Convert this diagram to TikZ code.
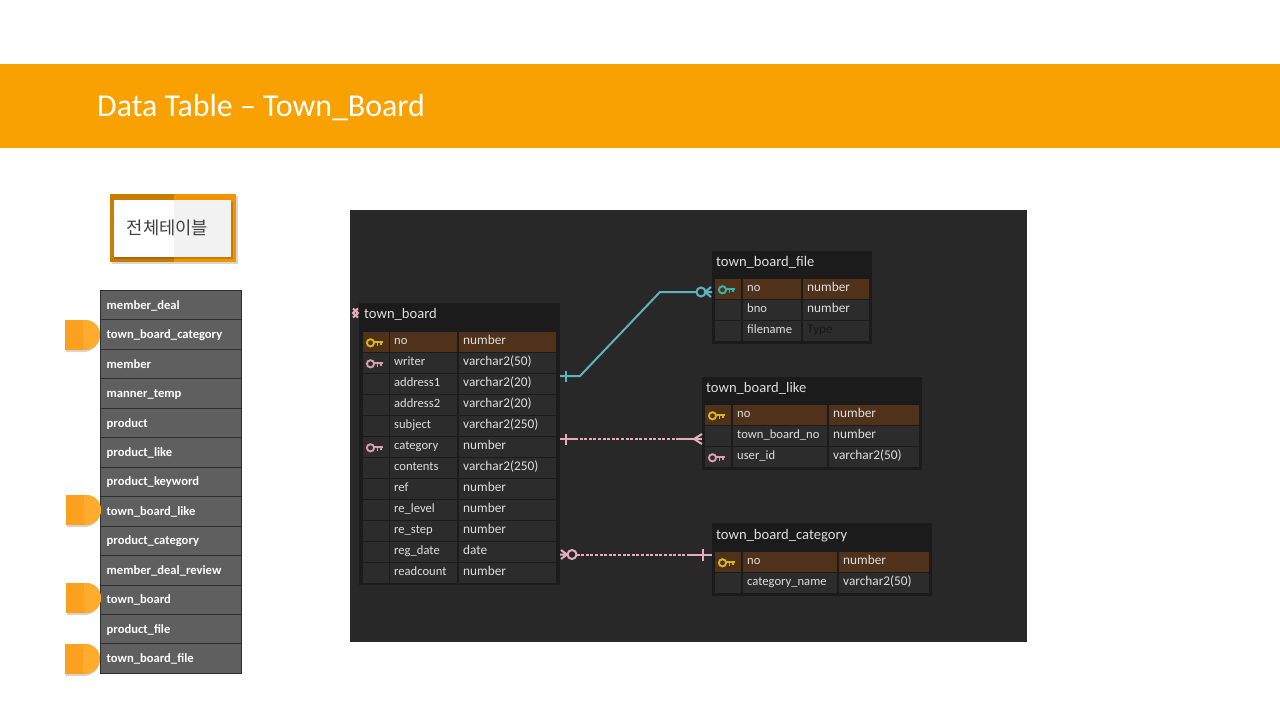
\documentclass[tikz,border=0pt]{standalone}
\usepackage{fontspec}
\setmainfont{Carlito}
\newfontfamily\krfont{Noto Sans CJK KR}
\definecolor{band}{HTML}{F9A100}
\definecolor{panel}{HTML}{282828}
\definecolor{tablebg}{HTML}{1B1B1B}
\definecolor{cellbg}{HTML}{2C2C2C}
\definecolor{pkbg}{HTML}{4F3219}
\definecolor{erText}{HTML}{DEDEDE}
\definecolor{keyGold}{HTML}{D9B81E}
\definecolor{keyPink}{HTML}{D8A0AE}
\definecolor{keyTeal}{HTML}{2FB8B8}
\definecolor{linkTeal}{HTML}{5FB3BC}
\definecolor{linkPink}{HTML}{E6ADBD}
\definecolor{listbg}{HTML}{5F5F5F}
\definecolor{listedge}{HTML}{2E2E2E}
\definecolor{tabA}{HTML}{FCA11F}
\definecolor{tabB}{HTML}{FFAB2E}
\definecolor{btnDark}{HTML}{C77C02}
\definecolor{btnLight}{HTML}{F09400}
\definecolor{btnGrey}{HTML}{F2F2F2}
\definecolor{btnText}{HTML}{404040}
\tikzset{
  box/.style={draw=none,inner sep=0pt,outer sep=0pt,anchor=north west},
  ertable/.style={box,fill=tablebg},
  ercell/.style={box,fill=cellbg,minimum height=20pt},
  ertitle/.style={inner sep=0pt,anchor=west,text=erText,font=\fontsize{14.6}{16}\selectfont,text height=11pt,text depth=1pt},
  ername/.style={inner sep=0pt,anchor=west,text=erText,font=\fontsize{12.6}{14}\selectfont,text height=8pt,text depth=3pt},
  ertype/.style={inner sep=0pt,anchor=west,text=erText,font=\fontsize{13.3}{14}\selectfont,text height=8pt,text depth=3pt},
  listrow/.style={box,fill=listbg,draw=listedge,line width=1pt,minimum width=141pt,minimum height=29.5pt},
  listtext/.style={inner sep=0pt,anchor=west,text=white,font=\fontsize{12.6}{14}\selectfont\bfseries,text height=8pt,text depth=3pt},
  link/.style={line width=2pt},
  dashlink/.style={line width=2pt,dash pattern=on 3pt off 1.6pt},
  shadowfill/.style={fill=black,opacity=.16,draw=none},
}
\def\nokey{none}
% args: name, y, key colour or none, name text, type text, fill, type text colour
\newcommand\errow[7]{%
  \node[ercell,fill=#6,minimum width=\kw pt] (#1k) at (\kx,#2) {};
  \node[ercell,fill=#6,minimum width=\nw pt] (#1n) at (\nx,#2) {};
  \node[ercell,fill=#6,minimum width=\tw pt] (#1t) at (\tx,#2) {};
  \node[ername] (#1nt) at ([xshift=4pt,yshift=0.3pt]#1n.west) {#4};
  \node[ertype,text=#7] (#1tt) at ([xshift=4pt,yshift=0.3pt]#1t.west) {#5};
  \def\keyarg{#3}%
  \ifx\keyarg\nokey\else
  \begin{scope}[shift={(#1k.center)},xshift=-5.5pt,yshift=-0.8pt]
    \draw[#3,line width=1.9pt] (0,0) circle (3.6pt);
    \draw[#3,line width=2.2pt] (3.6,-1) -- (12,-1);
    \draw[#3,line width=1.8pt] (7,-1) -- (7,3) (10.5,-1) -- (10.5,2.5);
  \end{scope}
  \fi
}
\begin{document}
\begin{tikzpicture}[x=1pt,y=-1pt]
\useasboundingbox (0,0) rectangle (1280,720);
\fill[white] (0,0) rectangle (1280,720);
% header
\node[box,fill=band,minimum width=1280pt,minimum height=84pt] (header) at (0,64) {};
\node[inner sep=0pt,anchor=west,text=white,font=\fontsize{31.9}{34}\selectfont] (title) at (97,107.5) {Data Table – Town\_Board};
% button
\fill[shadowfill] (111.5,195.5) rectangle (237.5,264);
\fill[btnDark] (110,194) rectangle (174,262);
\fill[btnLight] (174,194) rectangle (236,262);
\fill[shadowfill] (114,202) rectangle (232.5,258.5);
\fill[white] (114,200) rectangle (174,257);
\fill[btnGrey] (174,200) rectangle (231,257);
\node[inner sep=0pt,text=btnText,font=\krfont\fontsize{17.7}{20}\selectfont] (btn) at (167.5,228) {전체테이블};
% list
\foreach \lt/\ln [count=\i from 0] in {member\_deal/a,town\_board\_category/b,member/c,manner\_temp/d,product/e,product\_like/f,product\_keyword/g,town\_board\_like/h,product\_category/i,member\_deal\_review/j,town\_board/k,product\_file/l,town\_board\_file/m}{
  \node[listrow] (list\ln) at (100.5,290.5+29.45*\i) {};
  \node[listtext] (listt\ln) at ([xshift=6pt,yshift=-1.5pt]list\ln.west) {\lt};
}
% tabs
\foreach \px/\py in {65/320,66/495,66/583,65/644}{
  \fill[shadowfill] (\px+1,\py+2) -- (\px+19,\py+2) arc[start angle=90,end angle=-90,radius=15pt] -- (\px+1,\py+32) -- cycle;
  \fill[tabA] (\px,\py) -- (\px+20,\py) arc[start angle=90,end angle=-90,radius=15pt] -- (\px,\py+30) -- cycle;
  \begin{scope}
    \clip (\px+18,\py) rectangle (\px+40,\py+30);
    \fill[tabB] (\px,\py) -- (\px+20,\py) arc[start angle=90,end angle=-90,radius=15pt] -- (\px,\py+30) -- cycle;
  \end{scope}
}
% panel
\node[box,fill=panel,minimum width=677pt,minimum height=432pt] (panel) at (350,210) {};
% town_board
\node[ertable,minimum width=201pt,minimum height=282pt] (tb) at (359,303) {};
\node[ertitle] (tbtitle) at (364,313) {town\_board};
\def\kx{363}\def\kw{26}\def\nx{390}\def\nw{67}\def\tx{459}\def\tw{97}
\errow{tbA}{332}{keyGold}{no}{number}{pkbg}{erText}
\errow{tbB}{353}{keyPink}{writer}{varchar2(50)}{cellbg}{erText}
\errow{tbC}{374}{none}{address1}{varchar2(20)}{cellbg}{erText}
\errow{tbD}{395}{none}{address2}{varchar2(20)}{cellbg}{erText}
\errow{tbE}{416}{none}{subject}{varchar2(250)}{cellbg}{erText}
\errow{tbF}{437}{keyPink}{category}{number}{cellbg}{erText}
\errow{tbG}{458}{none}{contents}{varchar2(250)}{cellbg}{erText}
\errow{tbH}{479}{none}{ref}{number}{cellbg}{erText}
\errow{tbI}{500}{none}{re\_level}{number}{cellbg}{erText}
\errow{tbJ}{521}{none}{re\_step}{number}{cellbg}{erText}
\errow{tbK}{542}{none}{reg\_date}{date}{cellbg}{erText}
\errow{tbL}{563}{none}{readcount}{number}{cellbg}{erText}
% town_board_file
\node[ertable,minimum width=160pt,minimum height=93pt] (tf) at (712,251) {};
\node[ertitle] (tftitle) at (716,261) {town\_board\_file};
\def\kx{715}\def\kw{26}\def\nx{743}\def\nw{58}\def\tx{803}\def\tw{66}
\errow{tfA}{279}{keyTeal}{no}{number}{pkbg}{erText}
\errow{tfB}{300}{none}{bno}{number}{cellbg}{erText}
\errow{tfC}{321}{none}{filename}{Type}{cellbg}{black!45!cellbg}
% town_board_like
\node[ertable,minimum width=220pt,minimum height=93pt] (tl) at (702,377) {};
\node[ertitle] (tltitle) at (706,387) {town\_board\_like};
\def\kx{705}\def\kw{26}\def\nx{733}\def\nw{94}\def\tx{829}\def\tw{90}
\errow{tlA}{405}{keyGold}{no}{number}{pkbg}{erText}
\errow{tlB}{426}{none}{town\_board\_no}{number}{cellbg}{erText}
\errow{tlC}{447}{keyPink}{user\_id}{varchar2(50)}{cellbg}{erText}
% town_board_category
\node[ertable,minimum width=220pt,minimum height=73pt] (tc) at (712,523) {};
\node[ertitle] (tctitle) at (716,534) {town\_board\_category};
\def\kx{715}\def\kw{26}\def\nx{743}\def\nw{94}\def\tx{839}\def\tw{90}
\errow{tcA}{552}{keyGold}{no}{number}{pkbg}{erText}
\errow{tcB}{573}{none}{category\_name}{varchar2(50)}{cellbg}{erText}
% connector ends
\coordinate (fromA) at (tb.east |- 0,376);
\coordinate (toA) at (tf.west |- 0,292);
\coordinate (fromB) at (tb.east |- 0,439);
\coordinate (toB) at (tl.west |- 0,439);
\coordinate (fromC) at (tb.east |- 0,554.5);
\coordinate (toC) at (tc.west |- 0,554.5);
% teal link
\draw[link,linkTeal] (fromA) -- ++(20,0) -- (660,292) -- ([xshift=-16pt]toA);
\draw[link,linkTeal] ([xshift=6pt,yshift=-5.5pt]fromA) -- ([xshift=6pt,yshift=5.5pt]fromA);
\draw[link,linkTeal] ([xshift=-11pt]toA) circle (4.5pt);
\draw[link,linkTeal] ([xshift=-1pt,yshift=-5pt]toA) -- ([xshift=-7pt]toA) -- ([xshift=-1pt,yshift=5pt]toA) ([xshift=-7pt]toA) -- (toA);
% pink like link
\draw[link,linkPink] (fromB) -- ++(15,0);
\draw[dashlink,linkPink] ([xshift=15pt]fromB) -- ([xshift=-25pt]toB);
\draw[link,linkPink] ([xshift=-25pt]toB) -- (toB);
\draw[link,linkPink] ([xshift=6pt,yshift=-5.5pt]fromB) -- ([xshift=6pt,yshift=5.5pt]fromB);
\draw[link,linkPink] ([yshift=-5pt]toB) -- ([xshift=-8pt]toB) -- ([yshift=5pt]toB);
% pink category link
\draw[link,linkPink] ([xshift=1pt,yshift=-4.5pt]fromC) -- ([xshift=7pt]fromC) -- ([xshift=1pt,yshift=4.5pt]fromC) (fromC) -- ([xshift=7pt]fromC);
\draw[link,linkPink] ([xshift=12pt]fromC) circle (4.5pt);
\draw[dashlink,linkPink] ([xshift=16.5pt]fromC) -- ([xshift=-22pt]toC);
\draw[link,linkPink] ([xshift=-22pt]toC) -- (toC);
\draw[link,linkPink] ([xshift=-9pt,yshift=-6pt]toC) -- ([xshift=-9pt,yshift=6pt]toC);
% foot at the left of town_board
\draw[link,linkPink] ([xshift=-6pt,yshift=-4.5pt]tbtitle.west) -- ([xshift=-11pt]tbtitle.west) -- ([xshift=-6pt,yshift=4.5pt]tbtitle.west);
\draw[link,linkPink] ([xshift=-11pt,yshift=-4.5pt]tbtitle.west) -- ([xshift=-6pt]tbtitle.west) -- ([xshift=-11pt,yshift=4.5pt]tbtitle.west);
\end{tikzpicture}
\end{document}
